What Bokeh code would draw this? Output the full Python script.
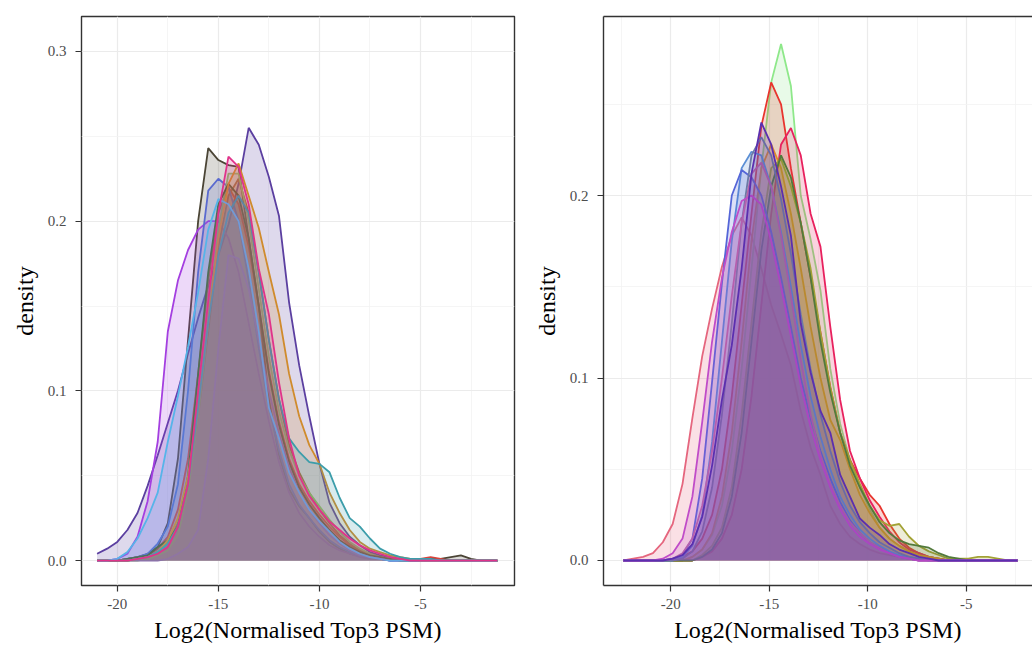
from bokeh.plotting import figure
from bokeh.layouts import row
from bokeh.models import Range1d, FixedTicker, PrintfTickFormatter, LinearAxis
from bokeh.embed import file_html
from bokeh.resources import INLINE

# ---------------- data: left panel (x grid -21 .. -1.2) ----------------
XL = [-21.0 + 0.5 * i for i in range(40)] + [-1.2]

L_PURPLE = [0.004, 0.007, 0.011, 0.018, 0.028, 0.044, 0.062, 0.081, 0.100, 0.122, 0.143, 0.162, 0.180, 0.198, 0.222, 0.255, 0.245, 0.226, 0.203, 0.152, 0.115, 0.085, 0.057, 0.034, 0.022, 0.014, 0.009, 0.005, 0.003, 0.002, 0.001, 0.001, 0, 0, 0, 0, 0, 0, 0, 0, 0]
L_GREYBROWN = [0, 0, 0, 0.001, 0.002, 0.004, 0.008, 0.022, 0.060, 0.130, 0.200, 0.243, 0.236, 0.233, 0.232, 0.190, 0.150, 0.095, 0.062, 0.042, 0.032, 0.025, 0.017, 0.011, 0.007, 0.004, 0.003, 0.002, 0.001, 0.001, 0.001, 0.001, 0.001, 0.001, 0.001, 0.002, 0.003, 0.001, 0, 0, 0]
L_VIOLET = [0, 0, 0.001, 0.004, 0.014, 0.035, 0.070, 0.135, 0.165, 0.183, 0.195, 0.200, 0.200, 0.190, 0.170, 0.140, 0.110, 0.082, 0.058, 0.040, 0.028, 0.020, 0.014, 0.009, 0.006, 0.004, 0.002, 0.001, 0.001, 0, 0, 0, 0, 0, 0, 0, 0, 0, 0, 0, 0]
L_RED = [0, 0, 0, 0.001, 0.002, 0.003, 0.007, 0.014, 0.030, 0.060, 0.110, 0.165, 0.205, 0.220, 0.210, 0.185, 0.150, 0.112, 0.082, 0.060, 0.045, 0.035, 0.027, 0.020, 0.014, 0.009, 0.006, 0.004, 0.002, 0.001, 0.001, 0.001, 0.001, 0.002, 0.001, 0, 0, 0, 0, 0, 0]
L_SIENNA = [0, 0, 0, 0, 0.001, 0.002, 0.005, 0.010, 0.022, 0.045, 0.085, 0.135, 0.185, 0.215, 0.225, 0.205, 0.170, 0.130, 0.095, 0.068, 0.052, 0.040, 0.030, 0.022, 0.015, 0.010, 0.006, 0.004, 0.002, 0.001, 0.001, 0, 0, 0, 0, 0, 0, 0, 0, 0, 0]
L_BLUE = [0, 0, 0, 0.001, 0.002, 0.004, 0.010, 0.020, 0.045, 0.100, 0.170, 0.218, 0.225, 0.220, 0.200, 0.165, 0.125, 0.090, 0.065, 0.045, 0.033, 0.025, 0.018, 0.012, 0.008, 0.005, 0.003, 0.002, 0.001, 0, 0, 0, 0, 0, 0, 0, 0, 0, 0, 0, 0]
L_GREEN = [0, 0, 0, 0, 0, 0.001, 0.003, 0.006, 0.015, 0.040, 0.085, 0.140, 0.195, 0.228, 0.228, 0.200, 0.160, 0.120, 0.088, 0.065, 0.050, 0.040, 0.032, 0.024, 0.017, 0.011, 0.007, 0.004, 0.002, 0.001, 0, 0, 0, 0, 0, 0, 0, 0, 0, 0, 0]
L_OLIVE = [0, 0, 0, 0.001, 0.002, 0.003, 0.008, 0.012, 0.020, 0.050, 0.110, 0.170, 0.210, 0.222, 0.215, 0.190, 0.150, 0.110, 0.080, 0.058, 0.043, 0.033, 0.025, 0.018, 0.012, 0.008, 0.005, 0.003, 0.002, 0.001, 0, 0, 0, 0, 0, 0, 0, 0, 0, 0, 0]
L_MAUVE = [0, 0, 0, 0, 0, 0, 0, 0.001, 0.004, 0.008, 0.018, 0.060, 0.125, 0.180, 0.178, 0.160, 0.130, 0.100, 0.075, 0.055, 0.040, 0.030, 0.022, 0.015, 0.010, 0.006, 0.003, 0.002, 0.001, 0, 0, 0, 0, 0, 0, 0, 0, 0, 0, 0, 0]
L_ORANGE = [0, 0, 0, 0, 0.001, 0.002, 0.005, 0.012, 0.025, 0.050, 0.090, 0.140, 0.190, 0.222, 0.234, 0.215, 0.196, 0.170, 0.145, 0.110, 0.085, 0.068, 0.057, 0.040, 0.028, 0.018, 0.011, 0.007, 0.005, 0.003, 0.002, 0.001, 0, 0, 0, 0, 0, 0, 0, 0, 0]
L_TEAL = [0, 0, 0, 0, 0.001, 0.002, 0.005, 0.010, 0.020, 0.045, 0.090, 0.140, 0.180, 0.205, 0.215, 0.205, 0.170, 0.130, 0.095, 0.072, 0.064, 0.058, 0.057, 0.052, 0.037, 0.025, 0.020, 0.013, 0.007, 0.004, 0.002, 0.001, 0.001, 0.001, 0, 0, 0, 0, 0, 0, 0]
L_CYAN = [0, 0, 0.001, 0.005, 0.013, 0.025, 0.040, 0.070, 0.097, 0.126, 0.158, 0.195, 0.213, 0.210, 0.200, 0.172, 0.135, 0.090, 0.072, 0.052, 0.040, 0.030, 0.023, 0.017, 0.011, 0.007, 0.004, 0.002, 0.001, 0, 0, 0, 0, 0, 0, 0, 0, 0, 0, 0, 0]
L_PINK = [0, 0, 0, 0, 0.001, 0.002, 0.004, 0.008, 0.020, 0.045, 0.100, 0.153, 0.205, 0.238, 0.232, 0.210, 0.172, 0.145, 0.105, 0.072, 0.050, 0.038, 0.030, 0.023, 0.018, 0.013, 0.009, 0.006, 0.004, 0.002, 0.001, 0, 0, 0, 0, 0, 0, 0, 0, 0, 0]

LEFT_SERIES = [
    ("#5B3FA0", L_PURPLE), ("#4B4536", L_GREYBROWN), ("#A43FE0", L_VIOLET),
    ("#D9413A", L_RED), ("#A0603A", L_SIENNA), ("#5A6ACF", L_BLUE),
    ("#8DB86A", L_GREEN), ("#4E5E33", L_OLIVE), ("#8A6FAE", L_MAUVE),
    ("#D08B2C", L_ORANGE), ("#3C9DAA", L_TEAL), ("#56B4E9", L_CYAN),
    ("#E0338A", L_PINK),
]

# ---------------- data: right panel (x grid -22.4 .. -2.4) ----------------
XR = [-22.4 + 0.5 * i for i in range(41)]

R_SALMON = [0, 0.001, 0.002, 0.004, 0.010, 0.020, 0.042, 0.078, 0.112, 0.138, 0.161, 0.178, 0.188, 0.178, 0.160, 0.140, 0.124, 0.107, 0.082, 0.062, 0.047, 0.030, 0.020, 0.013, 0.009, 0.006, 0.004, 0.003, 0.002, 0.001, 0, 0, 0, 0, 0, 0, 0, 0, 0, 0, 0]
R_MAUVE = [0, 0, 0, 0, 0, 0.001, 0.004, 0.012, 0.030, 0.060, 0.100, 0.145, 0.185, 0.212, 0.218, 0.205, 0.178, 0.145, 0.110, 0.080, 0.058, 0.042, 0.030, 0.021, 0.015, 0.010, 0.007, 0.004, 0.002, 0.001, 0, 0, 0, 0, 0, 0, 0, 0, 0, 0, 0]
R_MAGENTA = [0, 0, 0, 0, 0.001, 0.004, 0.012, 0.035, 0.076, 0.120, 0.155, 0.180, 0.197, 0.200, 0.195, 0.175, 0.150, 0.123, 0.096, 0.073, 0.055, 0.040, 0.028, 0.019, 0.013, 0.009, 0.006, 0.004, 0.002, 0.001, 0, 0, 0, 0, 0, 0, 0, 0, 0, 0, 0]
R_ROYAL = [0, 0, 0, 0, 0, 0.001, 0.003, 0.012, 0.045, 0.098, 0.152, 0.200, 0.214, 0.210, 0.200, 0.180, 0.155, 0.128, 0.100, 0.078, 0.060, 0.045, 0.032, 0.022, 0.015, 0.010, 0.007, 0.004, 0.002, 0.001, 0, 0, 0, 0, 0, 0, 0, 0, 0, 0, 0]
R_STEEL = [0, 0, 0, 0, 0, 0, 0.002, 0.008, 0.025, 0.065, 0.120, 0.175, 0.215, 0.224, 0.222, 0.205, 0.180, 0.150, 0.118, 0.090, 0.068, 0.050, 0.035, 0.025, 0.017, 0.012, 0.008, 0.005, 0.003, 0.002, 0.001, 0, 0, 0, 0, 0, 0, 0, 0, 0, 0]
R_SLATE = [0, 0, 0, 0, 0, 0, 0.001, 0.005, 0.016, 0.040, 0.080, 0.130, 0.185, 0.222, 0.232, 0.222, 0.198, 0.168, 0.135, 0.105, 0.080, 0.060, 0.043, 0.030, 0.021, 0.015, 0.010, 0.007, 0.004, 0.002, 0.001, 0, 0, 0, 0, 0, 0, 0, 0, 0, 0]
R_GREEN = [0, 0, 0, 0, 0, 0, 0, 0.002, 0.006, 0.014, 0.030, 0.060, 0.105, 0.160, 0.215, 0.262, 0.283, 0.260, 0.200, 0.176, 0.148, 0.105, 0.075, 0.055, 0.040, 0.028, 0.018, 0.012, 0.008, 0.005, 0.003, 0.002, 0.001, 0, 0, 0, 0, 0, 0, 0, 0]
R_RED = [0, 0, 0, 0, 0, 0, 0.002, 0.005, 0.012, 0.025, 0.050, 0.090, 0.140, 0.190, 0.238, 0.262, 0.250, 0.215, 0.185, 0.155, 0.125, 0.095, 0.070, 0.055, 0.045, 0.036, 0.030, 0.020, 0.012, 0.007, 0.004, 0.002, 0.001, 0, 0, 0, 0, 0, 0, 0, 0]
R_CRIMSON = [0, 0, 0, 0, 0, 0, 0, 0, 0.002, 0.005, 0.012, 0.025, 0.050, 0.090, 0.140, 0.190, 0.228, 0.237, 0.222, 0.190, 0.172, 0.128, 0.088, 0.060, 0.045, 0.033, 0.024, 0.016, 0.010, 0.006, 0.004, 0.002, 0.001, 0, 0, 0, 0, 0, 0, 0, 0]
R_ORANGE = [0, 0, 0, 0, 0, 0, 0, 0.002, 0.006, 0.015, 0.035, 0.070, 0.120, 0.175, 0.215, 0.228, 0.215, 0.190, 0.160, 0.128, 0.100, 0.077, 0.066, 0.050, 0.036, 0.026, 0.018, 0.012, 0.008, 0.005, 0.003, 0.002, 0.001, 0, 0, 0, 0, 0, 0, 0, 0]
R_OLIVE = [0, 0, 0, 0, 0, 0, 0, 0, 0.003, 0.008, 0.018, 0.040, 0.080, 0.130, 0.180, 0.215, 0.220, 0.205, 0.185, 0.160, 0.125, 0.095, 0.070, 0.055, 0.042, 0.030, 0.022, 0.019, 0.020, 0.013, 0.008, 0.005, 0.003, 0.001, 0.001, 0.001, 0.002, 0.002, 0.001, 0, 0]
R_DKGREEN = [0, 0, 0, 0, 0, 0, 0, 0, 0.002, 0.006, 0.015, 0.035, 0.070, 0.120, 0.170, 0.205, 0.222, 0.210, 0.185, 0.155, 0.120, 0.092, 0.070, 0.052, 0.040, 0.030, 0.021, 0.015, 0.011, 0.009, 0.008, 0.007, 0.004, 0.002, 0.001, 0, 0, 0, 0, 0, 0]
R_PURPLE = [0, 0, 0, 0, 0, 0.001, 0.003, 0.009, 0.024, 0.052, 0.088, 0.118, 0.160, 0.212, 0.240, 0.228, 0.205, 0.178, 0.130, 0.103, 0.082, 0.070, 0.047, 0.035, 0.023, 0.018, 0.014, 0.009, 0.006, 0.004, 0.002, 0.001, 0, 0, 0, 0, 0, 0, 0, 0, 0]

RIGHT_SERIES = [
    ("#E5667E", R_SALMON), ("#8EE88A", R_GREEN), ("#E8352E", R_RED),
    ("#E8215E", R_CRIMSON), ("#E08A2A", R_ORANGE), ("#A3A235", R_OLIVE),
    ("#527A3C", R_DKGREEN), ("#5B8FD5", R_STEEL), ("#5566D8", R_ROYAL),
    ("#6C7AA6", R_SLATE), ("#B465A8", R_MAUVE), ("#C04CC8", R_MAGENTA),
    ("#5B2FAF", R_PURPLE),
]

X_TICKS = [-20, -15, -10, -5]
X_MINOR = [-22.5, -17.5, -12.5, -7.5, -2.5]
Y_TICKS_LEFT = [0.0, 0.1, 0.2, 0.3]
Y_TICKS_RIGHT = [0.0, 0.1, 0.2]
Y_MINOR = [0.05, 0.15, 0.25]
X_LABEL = "Log2(Normalised Top3 PSM)"
Y_LABEL = "density"

FONT = "Liberation Serif"
BORDER = "#333333"


def style(p, yticks):
    p.background_fill_color = "white"
    p.border_fill_color = "white"
    p.xaxis.ticker = FixedTicker(ticks=X_TICKS, minor_ticks=X_MINOR)
    p.yaxis.ticker = FixedTicker(ticks=yticks, minor_ticks=Y_MINOR)
    p.xaxis.formatter = PrintfTickFormatter(format="%d")
    p.yaxis.formatter = PrintfTickFormatter(format="%.1f")
    for ax in (p.xaxis[0], p.yaxis[0]):
        ax.major_tick_line_color = BORDER
        ax.major_tick_line_width = 1.2
        ax.major_tick_out = 6
        ax.major_tick_in = 0
        ax.minor_tick_line_color = None
        ax.major_label_text_font = FONT
        ax.major_label_text_font_size = "15px"
        ax.major_label_text_color = "#4D4D4D"
        ax.axis_label_text_font = FONT
        ax.axis_label_text_font_size = "24px"
        ax.axis_label_text_font_style = "normal"
        ax.axis_label_text_color = "black"
    p.xaxis.major_label_standoff = 7
    p.xaxis.axis_label_standoff = 5
    p.yaxis.major_label_standoff = 9
    p.yaxis.axis_label_standoff = 7
    p.xaxis.axis_label = X_LABEL
    p.yaxis.axis_label = Y_LABEL
    for g in (p.xgrid[0], p.ygrid[0]):
        g.grid_line_color = "#EBEBEB"
        g.grid_line_width = 1.2
        g.minor_grid_line_color = "#F3F3F3"
        g.minor_grid_line_width = 0.8


def draw(p, xs, series):
    zeros = [0.0] * len(xs)
    for color, vals in series:
        p.varea(x=xs, y1=zeros, y2=vals, fill_color=color, fill_alpha=0.2)
        p.line(xs, vals, line_color=color, line_width=1.8)


p1 = figure(width=524, height=648, output_backend="svg", toolbar_location=None,
            x_range=Range1d(-21.77, -0.35), y_range=Range1d(-0.0147, 0.3206),
            min_border_left=81, min_border_right=10, min_border_top=16, min_border_bottom=63)
style(p1, Y_TICKS_LEFT)
p1.xaxis.axis_line_color = None
p1.yaxis.axis_line_color = None
p1.outline_line_color = BORDER
p1.outline_line_width = 1.4
p1.outline_line_alpha = 1.0
draw(p1, XL, LEFT_SERIES)

p2 = figure(width=508, height=648, output_backend="svg", toolbar_location=None,
            x_range=Range1d(-23.41, -1.64), y_range=Range1d(-0.0137, 0.2981),
            min_border_left=79, min_border_right=0, min_border_top=16, min_border_bottom=63)
style(p2, Y_TICKS_RIGHT)
p2.outline_line_color = None
for ax in (p2.xaxis[0], p2.yaxis[0]):
    ax.axis_line_color = BORDER
    ax.axis_line_width = 1.4
top = LinearAxis(ticker=FixedTicker(ticks=[]), major_label_text_font_size="0px",
                 axis_line_color=BORDER, axis_line_width=1.4,
                 major_tick_line_color=None, minor_tick_line_color=None)
p2.add_layout(top, "above")
draw(p2, XR, RIGHT_SERIES)

layout = row(p1, p2)
open("out.html", "w").write(file_html(layout, INLINE))
